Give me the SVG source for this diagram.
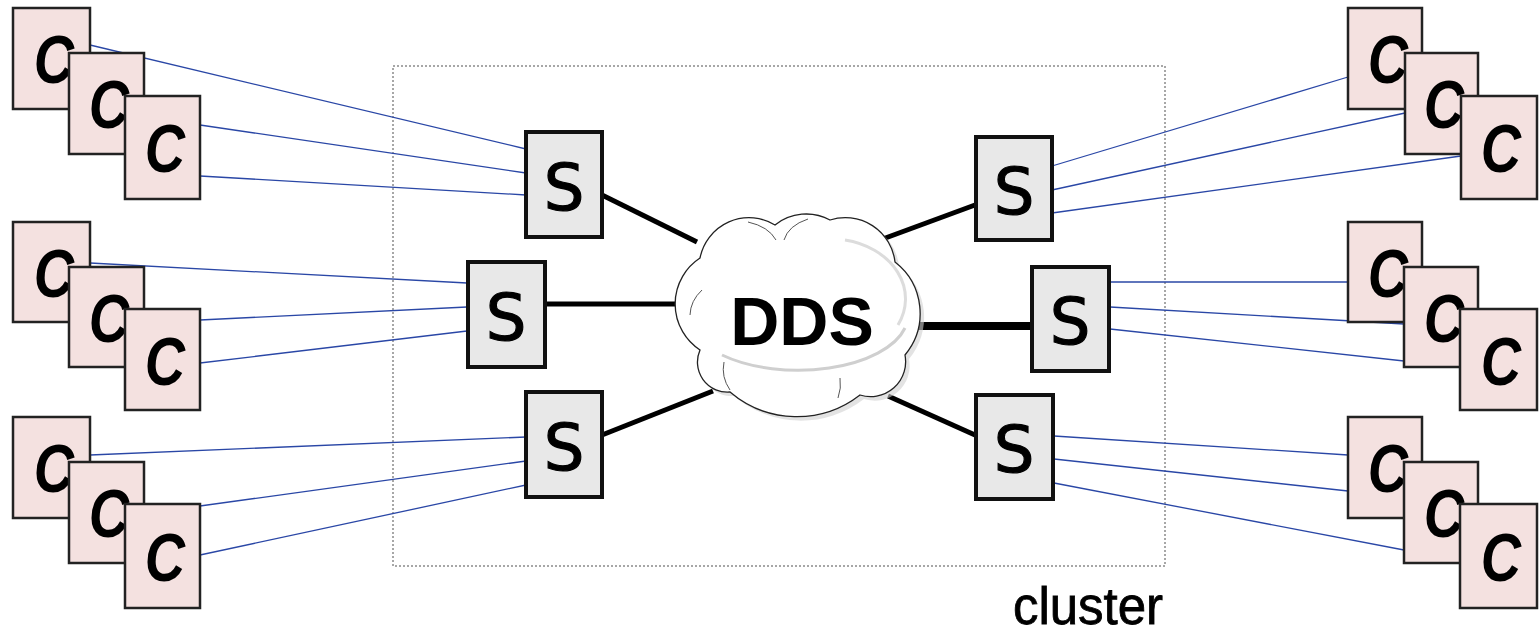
<svg xmlns="http://www.w3.org/2000/svg" width="1539" height="634" viewBox="0 0 1539 634">
<style>
.cbox{fill:#f4e1e0;stroke:#222;stroke-width:2.5}
.sbox{fill:#e8e8e8;stroke:#111;stroke-width:4}
.ct{font-family:"Liberation Sans",Arial,sans-serif;font-weight:bold;font-style:italic;font-size:68px;fill:#000;text-anchor:middle}
.st{font-family:"DejaVu Sans","Liberation Sans",sans-serif;font-size:64px;fill:#000;stroke:#000;stroke-width:1.2;text-anchor:middle}
.blue{stroke:#2a47a6;stroke-width:1.3;fill:none}
.thick{stroke:#000;stroke-width:5;fill:none}
.cloud{fill:#fff;stroke:#222;stroke-width:1.3}
.inner{fill:none;stroke:#555;stroke-width:1}
</style>
<rect id="cluster-box" x="393" y="66" width="772" height="500" fill="none" stroke="#8a8a8a" stroke-width="1.5" stroke-dasharray="2 2"/>
<text id="cluster-label" x="1088" y="624" font-family="Liberation Sans, Arial, sans-serif" font-size="51" stroke="#000" stroke-width="0.8" text-anchor="middle" fill="#000">cluster</text>
<g id="connectors">
<line class="blue" x1="90" y1="45" x2="526" y2="149"/>
<line class="blue" x1="200" y1="125" x2="526" y2="173"/>
<line class="blue" x1="200" y1="176" x2="526" y2="195"/>
<line class="blue" x1="90" y1="263" x2="467" y2="283"/>
<line class="blue" x1="200" y1="320" x2="467" y2="307"/>
<line class="blue" x1="200" y1="363" x2="467" y2="331"/>
<line class="blue" x1="90" y1="455" x2="526" y2="437"/>
<line class="blue" x1="200" y1="506" x2="526" y2="461"/>
<line class="blue" x1="200" y1="555" x2="526" y2="485"/>
<line class="blue" x1="1052" y1="166" x2="1348" y2="77"/>
<line class="blue" x1="1052" y1="190" x2="1405" y2="113"/>
<line class="blue" x1="1052" y1="213" x2="1461" y2="156"/>
<line class="blue" x1="1110" y1="282" x2="1348" y2="282"/>
<line class="blue" x1="1110" y1="307" x2="1404" y2="324"/>
<line class="blue" x1="1110" y1="329" x2="1404" y2="361"/>
<line class="blue" x1="1054" y1="436" x2="1348" y2="455"/>
<line class="blue" x1="1054" y1="459" x2="1348" y2="491"/>
<line class="blue" x1="1054" y1="483" x2="1404" y2="550"/>
<line class="thick" x1="602" y1="195" x2="697" y2="242"/>
<line class="thick" x1="545" y1="304" x2="682" y2="304"/>
<line class="thick" x1="602" y1="435" x2="713" y2="391"/>
<line class="thick" x1="975" y1="205" x2="880" y2="240"/>
<line x1="1031" y1="326" x2="915" y2="326" stroke="#000" stroke-width="8"/>
<line class="thick" x1="975" y1="435" x2="888" y2="396"/>
</g>
<g id="dds">
<path d="M 700 350 A 55 55 0 0 1 700 258 A 50 50 0 0 1 775 225 A 50 50 0 0 1 830 220 A 50 50 0 0 1 895 262 A 65 65 0 0 1 905 355 A 35 35 0 0 1 860 395 A 103 103 0 0 1 730 392 A 30 30 0 0 1 700 350 Z" fill="#d0d0d0" transform="translate(4,4)" opacity="0.6"/>
<path class="cloud" d="M 700 350 A 55 55 0 0 1 700 258 A 50 50 0 0 1 775 225 A 50 50 0 0 1 830 220 A 50 50 0 0 1 895 262 A 65 65 0 0 1 905 355 A 35 35 0 0 1 860 395 A 103 103 0 0 1 730 392 A 30 30 0 0 1 700 350 Z"/>
<path class="inner" d="M 776 240 A 45 30 0 0 0 748 222"/>
<path class="inner" d="M 784 240 A 45 30 0 0 1 808 219"/>
<path class="inner" d="M 702 290 A 50 40 0 0 0 690 315"/>
<path class="inner" d="M 724 362 A 45 40 0 0 0 730 390"/>
<path class="inner" d="M 840 378 A 50 45 0 0 1 838 398"/>
<path d="M 722 355 A 110 55 0 0 0 905 328" fill="none" stroke="#cfcfcf" stroke-width="3"/>
<path d="M 845 240 A 75 60 0 0 1 898 325" fill="none" stroke="#dcdcdc" stroke-width="3"/>
<text x="802" y="345" font-family="Liberation Sans, Arial, sans-serif" font-weight="bold" font-size="68" text-anchor="middle" fill="#000">DDS</text>
</g>
<g id="s-left-top"><rect class="sbox" x="526" y="132" width="76" height="105"/><text class="st" x="564" y="210">S</text></g>
<g id="s-left-mid"><rect class="sbox" x="468" y="262" width="77" height="105"/><text class="st" x="506" y="340">S</text></g>
<g id="s-left-bottom"><rect class="sbox" x="526" y="392" width="76" height="105"/><text class="st" x="564" y="470">S</text></g>
<g id="s-right-top"><rect class="sbox" x="976" y="137" width="76" height="103"/><text class="st" x="1014" y="214">S</text></g>
<g id="s-right-mid"><rect class="sbox" x="1032" y="267" width="77" height="104"/><text class="st" x="1070" y="344">S</text></g>
<g id="s-right-bottom"><rect class="sbox" x="976" y="395" width="77" height="104"/><text class="st" x="1014" y="472">S</text></g>
<g id="c-l1a"><rect class="cbox" x="13" y="8" width="77" height="101"/><text class="ct" transform="translate(54 83) scale(0.82 1)">C</text></g>
<g id="c-l1b"><rect class="cbox" x="69" y="53" width="75" height="101"/><text class="ct" transform="translate(109 128) scale(0.82 1)">C</text></g>
<g id="c-l1c"><rect class="cbox" x="125" y="96" width="75" height="103"/><text class="ct" transform="translate(165 172) scale(0.82 1)">C</text></g>
<g id="c-l2a"><rect class="cbox" x="13" y="222" width="77" height="100"/><text class="ct" transform="translate(54 297) scale(0.82 1)">C</text></g>
<g id="c-l2b"><rect class="cbox" x="69" y="267" width="75" height="100"/><text class="ct" transform="translate(109 342) scale(0.82 1)">C</text></g>
<g id="c-l2c"><rect class="cbox" x="125" y="309" width="75" height="101"/><text class="ct" transform="translate(165 385) scale(0.82 1)">C</text></g>
<g id="c-l3a"><rect class="cbox" x="13" y="417" width="77" height="101"/><text class="ct" transform="translate(54 492) scale(0.82 1)">C</text></g>
<g id="c-l3b"><rect class="cbox" x="69" y="462" width="75" height="101"/><text class="ct" transform="translate(109 537) scale(0.82 1)">C</text></g>
<g id="c-l3c"><rect class="cbox" x="125" y="504" width="75" height="104"/><text class="ct" transform="translate(165 581) scale(0.82 1)">C</text></g>
<g id="c-r1a"><rect class="cbox" x="1348" y="8" width="74" height="101"/><text class="ct" transform="translate(1388 83) scale(0.82 1)">C</text></g>
<g id="c-r1b"><rect class="cbox" x="1405" y="53" width="73" height="101"/><text class="ct" transform="translate(1444 128) scale(0.82 1)">C</text></g>
<g id="c-r1c"><rect class="cbox" x="1461" y="96" width="76" height="103"/><text class="ct" transform="translate(1501 172) scale(0.82 1)">C</text></g>
<g id="c-r2a"><rect class="cbox" x="1348" y="222" width="74" height="100"/><text class="ct" transform="translate(1388 297) scale(0.82 1)">C</text></g>
<g id="c-r2b"><rect class="cbox" x="1404" y="267" width="74" height="100"/><text class="ct" transform="translate(1444 342) scale(0.82 1)">C</text></g>
<g id="c-r2c"><rect class="cbox" x="1460" y="309" width="77" height="101"/><text class="ct" transform="translate(1501 385) scale(0.82 1)">C</text></g>
<g id="c-r3a"><rect class="cbox" x="1348" y="417" width="74" height="101"/><text class="ct" transform="translate(1388 492) scale(0.82 1)">C</text></g>
<g id="c-r3b"><rect class="cbox" x="1404" y="462" width="74" height="101"/><text class="ct" transform="translate(1444 537) scale(0.82 1)">C</text></g>
<g id="c-r3c"><rect class="cbox" x="1460" y="504" width="77" height="104"/><text class="ct" transform="translate(1501 581) scale(0.82 1)">C</text></g>
</svg>
